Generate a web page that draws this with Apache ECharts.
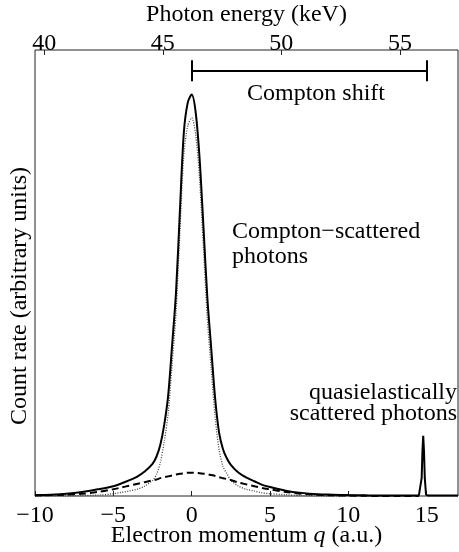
<!DOCTYPE html>
<html>
<head>
<meta charset="utf-8">
<script src="https://cdn.jsdelivr.net/npm/echarts@6/dist/echarts.min.js"></script>
<style>
html, body { margin: 0; padding: 0; background: #fff; }
#chart { width: 459px; height: 552px; }
</style>
</head>
<body>
<div id="chart"></div>
<script>
// electron momentum q (a.u.) where the curves were read
var momentum = [-10, -9, -8, -7, -6, -5, -4.5, -4, -3.5, -3, -2.5, -2.25, -2, -1.75, -1.5, -1.25, -1,
  -0.75, -0.5, -0.25, 0, 0.25, 0.5, 0.75, 1, 1.25, 1.5, 1.75, 2, 2.25, 2.5, 3, 3.5, 4, 4.5, 5,
  6, 7, 8, 9, 10, 11, 12, 13, 14, 14.5];
// solid: total Compton profile
var totalRate = [0.002, 0.003, 0.005, 0.009, 0.015, 0.022, 0.028, 0.035, 0.043, 0.055, 0.072, 0.088, 0.115, 0.160, 0.225, 0.337, 0.456,
  0.640, 0.815, 0.882, 0.900, 0.862, 0.760, 0.605, 0.445, 0.330, 0.218, 0.142, 0.105, 0.084, 0.070, 0.052, 0.041, 0.033, 0.025, 0.020,
  0.012, 0.007, 0.004, 0.003, 0.002, 0.0015, 0.001, 0.001, 0.001, 0.001];
// dotted: narrow (valence) part
var valenceRate = [0, 0, 0, 0.001, 0.002, 0.005, 0.008, 0.011, 0.015, 0.022, 0.035, 0.048, 0.075, 0.122, 0.185, 0.295, 0.410,
  0.592, 0.765, 0.830, 0.848, 0.812, 0.712, 0.558, 0.397, 0.284, 0.176, 0.104, 0.066, 0.050, 0.035, 0.022, 0.015, 0.011, 0.007, 0.005,
  0.003, 0.001, 0, 0, 0, 0, 0, 0, 0, 0];
// dashed: broad (core) part
var coreRate = [0.001, 0.002, 0.003, 0.005, 0.009, 0.015, 0.019, 0.023, 0.027, 0.031, 0.035, 0.037, 0.040, 0.042, 0.044, 0.046, 0.048,
  0.050, 0.051, 0.052, 0.052, 0.052, 0.051, 0.050, 0.049, 0.047, 0.045, 0.042, 0.040, 0.038, 0.036, 0.030, 0.026, 0.022, 0.018, 0.015,
  0.009, 0.005, 0.003, 0.0015, 0.001, 0.0005, 0, 0, 0, 0];
// quasielastic line
var elasticQ = [14.5, 14.6, 14.68, 14.73, 14.78, 14.83, 14.88, 14.96, 15.1, 16, 17];
var elasticRate = [0.001, 0.003, 0.04, 0.10, 0.135, 0.10, 0.04, 0.003, 0.001, 0.001, 0.001];

var momentumTicks = [-10, -5, 0, 5, 10, 15];
var energyTicks = [40, 45, 50, 55];
var energyRange = [39.61, 57.45];
var shiftStart = 0, shiftEnd = 15;

function pairs(xs, ys) {
  var out = [];
  for (var i = 0; i < xs.length; i++) out.push([xs[i], ys[i]]);
  return out;
}
function minus(v) { return String(v).replace('-', '\u2212'); }

var serif = 'Liberation Serif';
var fs = 24;
var chart = echarts.init(document.getElementById('chart'));

chart.setOption({
  animation: false,
  grid: { left: 35, right: 1, top: 50, bottom: 56, outerBoundsMode: 'none', containLabel: false,
    show: true, borderColor: '#222', borderWidth: 1 },
  xAxis: [{
    type: 'value', min: -10, max: 17, position: 'bottom',
    name: 'Electron momentum {i|q} (a.u.)', nameLocation: 'middle', nameGap: 28, nameMoveOverlap: false,
    nameTextStyle: { fontFamily: serif, fontSize: fs, color: '#000',
      rich: { i: { fontFamily: serif, fontStyle: 'italic', fontSize: fs, color: '#000' } } },
    axisLine: { show: false },
    axisTick: { inside: true, length: 5, lineStyle: { color: '#222' }, customValues: momentumTicks },
    axisLabel: { fontFamily: serif, fontSize: fs, color: '#000', margin: 8, customValues: momentumTicks, formatter: minus },
    splitLine: { show: false }
  }, {
    type: 'value', min: energyRange[0], max: energyRange[1], position: 'top',
    name: 'Photon energy (keV)', nameLocation: 'middle', nameGap: 23, nameMoveOverlap: false,
    nameTextStyle: { fontFamily: serif, fontSize: fs, color: '#000' },
    axisLine: { show: false },
    axisTick: { inside: true, length: 5, lineStyle: { color: '#222' }, customValues: energyTicks },
    axisLabel: { fontFamily: serif, fontSize: fs, color: '#000', margin: -6, customValues: energyTicks },
    splitLine: { show: false }
  }],
  yAxis: {
    type: 'value', min: 0, max: 1,
    axisLine: { show: false }, axisTick: { show: false }, axisLabel: { show: false }, splitLine: { show: false }
  },
  series: [{
    type: 'line', xAxisIndex: 0, data: pairs(momentum, valenceRate), showSymbol: false, smooth: 0.3,
    lineStyle: { color: '#444', width: 1.3, type: [1, 1.5] }
  }, {
    type: 'line', xAxisIndex: 0, data: pairs(momentum, coreRate), showSymbol: false, smooth: 0.3,
    lineStyle: { color: '#000', width: 2, type: [7, 4] }
  }, {
    type: 'line', xAxisIndex: 0, data: pairs(momentum, totalRate), showSymbol: false, smooth: 0.3,
    lineStyle: { color: '#000', width: 2 }
  }, {
    type: 'line', xAxisIndex: 0, data: pairs(elasticQ, elasticRate), showSymbol: false,
    lineStyle: { color: '#000', width: 2 },
    markLine: {
      silent: true, symbol: 'none', label: { show: false },
      lineStyle: { color: '#000', width: 2, type: 'solid' },
      data: [
        [{ coord: [shiftStart, 0.953] }, { coord: [shiftEnd, 0.953] }],
        [{ coord: [shiftStart, 0.977] }, { coord: [shiftStart, 0.930] }],
        [{ coord: [shiftEnd, 0.977] }, { coord: [shiftEnd, 0.930] }]
      ]
    }
  }],
  graphic: [{
    type: 'text', x: 316, y: 94,
    style: { text: 'Compton shift', font: fs + 'px "Liberation Serif"', fill: '#000', textAlign: 'center', textVerticalAlign: 'middle' }
  }, {
    type: 'text', x: 232, y: 244,
    style: { text: 'Compton\u2212scattered\nphotons', font: fs + 'px "Liberation Serif"', lineHeight: 25, fill: '#000', textAlign: 'left', textVerticalAlign: 'middle' }
  }, {
    type: 'text', x: 457, y: 403,
    style: { text: 'quasielastically\nscattered photons', font: fs + 'px "Liberation Serif"', lineHeight: 21, fill: '#000', textAlign: 'right', textVerticalAlign: 'middle' }
  }, {
    type: 'text', x: 20, y: 296, rotation: Math.PI / 2,
    style: { text: 'Count rate (arbitrary units)', font: fs + 'px "Liberation Serif"', fill: '#000', textAlign: 'center', textVerticalAlign: 'middle' }
  }]
});
</script>
</body>
</html>
